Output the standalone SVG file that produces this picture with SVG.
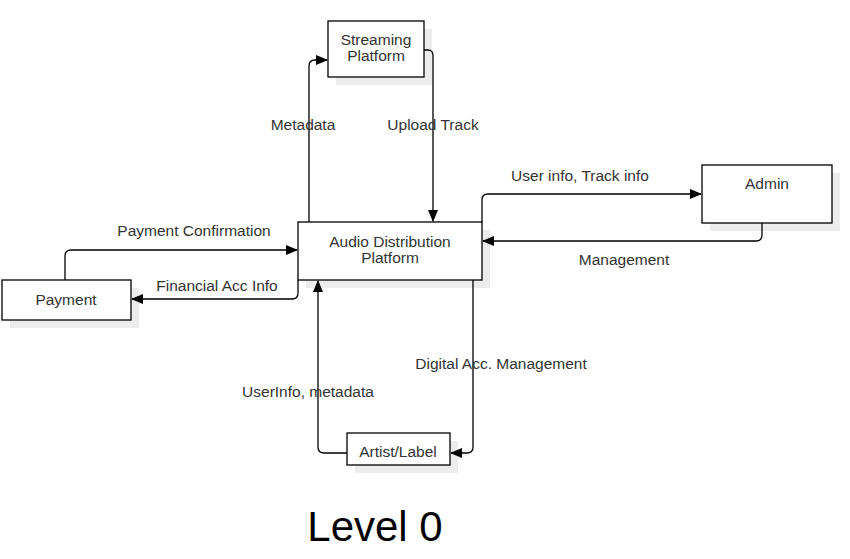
<svg xmlns="http://www.w3.org/2000/svg" width="850" height="559" viewBox="0 0 850 559">
<style>
.box{fill:#fff;stroke:#000;stroke-width:1.3}
.sh{fill:#ececec}
.t{font-family:"Liberation Sans",Arial,sans-serif;font-size:15.5px;fill:#333;text-anchor:middle}
.c{fill:none;stroke:#000;stroke-width:1.3}
</style>
<defs>
<marker id="a" markerWidth="12" markerHeight="10" refX="11" refY="5" orient="auto" markerUnits="userSpaceOnUse">
<path d="M0,0 L12,5 L0,10 Z" fill="#000"/>
</marker>
</defs>
<rect width="850" height="559" fill="#fff"/>
<g id="streaming">
<rect class="sh" x="336" y="29" width="96" height="56"/>
<rect class="box" x="328" y="21" width="96" height="56"/>
<text class="t" x="376" y="45">Streaming</text>
<text class="t" x="376" y="61">Platform</text>
</g>
<g id="adp">
<rect class="sh" x="306" y="230" width="184" height="58"/>
<rect class="box" x="298" y="222" width="184" height="58"/>
<text class="t" x="390" y="247">Audio Distribution</text>
<text class="t" x="390" y="263">Platform</text>
</g>
<g id="payment">
<rect class="sh" x="10" y="288" width="129" height="40"/>
<rect class="box" x="2" y="280" width="129" height="40"/>
<text class="t" x="66" y="305">Payment</text>
</g>
<g id="admin">
<rect class="sh" x="710" y="173" width="130" height="58"/>
<rect class="box" x="702" y="165" width="130" height="58"/>
<text class="t" x="767" y="189">Admin</text>
</g>
<g id="artist">
<rect class="sh" x="355" y="441" width="103" height="32"/>
<rect class="box" x="347" y="433" width="103" height="32"/>
<text class="t" x="398" y="457">Artist/Label</text>
</g>
<g id="connectors">
<path class="c" d="M309,222 L309,66 Q309,60 315,60 L327,60" marker-end="url(#a)"/>
<path class="c" d="M424,50 L428,50 Q433,50 433,56 L433,221" marker-end="url(#a)"/>
<path class="c" d="M65,280 L65,256 Q65,250 71,250 L297,250" marker-end="url(#a)"/>
<path class="c" d="M298,280 L298,293 Q298,299 292,299 L132,299" marker-end="url(#a)"/>
<path class="c" d="M347,453 L324,453 Q318,453 318,447 L318,281" marker-end="url(#a)"/>
<path class="c" d="M473,280 L473,447 Q473,453 467,453 L451,453" marker-end="url(#a)"/>
<path class="c" d="M482,222 L482,200 Q482,194 488,194 L701,194" marker-end="url(#a)"/>
<path class="c" d="M762,223 L762,235 Q762,241 756,241 L483,241" marker-end="url(#a)"/>
</g>
<g id="labels">
<text class="t" x="303" y="130">Metadata</text>
<text class="t" x="433" y="130">Upload Track</text>
<text class="t" x="580" y="181">User info, Track info</text>
<text class="t" x="194" y="236">Payment Confirmation</text>
<text class="t" x="217" y="291">Financial Acc Info</text>
<text class="t" x="624" y="265">Management</text>
<text class="t" x="501" y="369">Digital Acc. Management</text>
<text class="t" x="308" y="397">UserInfo, metadata</text>
<text x="375" y="541" style="font-family:'Liberation Sans',Arial,sans-serif;font-size:42px;fill:#000;text-anchor:middle">Level 0</text>
</g>
</svg>
